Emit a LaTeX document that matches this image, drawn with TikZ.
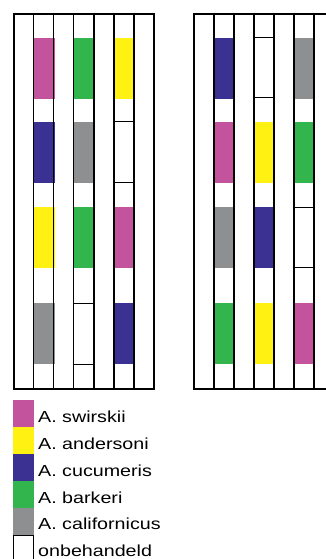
\documentclass[tikz,border=0pt]{standalone}
\usepackage{fontspec}
\setmainfont{Liberation Sans}
\newfontfamily\legendafont[FakeStretch=1.23]{Liberation Sans}
\definecolor{swirskii}{RGB}{196,83,157}
\definecolor{andersoni}{RGB}{255,241,18}
\definecolor{cucumeris}{RGB}{59,49,146}
\definecolor{barkeri}{RGB}{51,181,78}
\definecolor{californicus}{RGB}{142,143,144}
\begin{document}
\begin{tikzpicture}[x=1pt,y=-1pt,
    rand/.style={line width=2pt},
    dun/.style={line width=1pt},
    dik/.style={line width=1.4pt},
    leeg/.style={line width=1pt},
    tekst/.style={anchor=base west, inner sep=0pt, font=\legendafont\fontsize{16}{16}\selectfont}]
    \useasboundingbox (0,0) rectangle (325,559);
    % Kas 1: blokken
    \fill[swirskii] (34,38) rectangle (54.5,99);
    \fill[cucumeris] (34,122) rectangle (54.5,183);
    \fill[andersoni] (34,207) rectangle (54.5,268);
    \fill[californicus] (34,303) rectangle (54.5,364);
    \fill[barkeri] (74,38) rectangle (94,99);
    \fill[californicus] (74,122) rectangle (94,183);
    \fill[barkeri] (74,207) rectangle (94,268);
    \draw[leeg] (74,303) -- (94,303);
    \draw[leeg] (74,364) -- (94,364);
    \fill[andersoni] (114,38) rectangle (134,99);
    \draw[leeg] (114,122) -- (134,122);
    \draw[leeg] (114,182) -- (134,182);
    \fill[swirskii] (114,207) rectangle (134,268);
    \fill[cucumeris] (114,303) rectangle (134,364);
    % Kas 1: lijnen
    \draw[dun] (33.5,14) -- (33.5,389);
    \draw[dun] (53.5,14) -- (53.5,389);
    \draw[dun] (73.5,14) -- (73.5,389);
    \draw[dik] (94,14) -- (94,389);
    \draw[dik] (114,14) -- (114,389);
    \draw[dik] (134,14) -- (134,389);
    \draw[rand] (14,14) rectangle (154,389);
    % Kas 2: blokken
    \fill[cucumeris] (214,38) rectangle (234,99);
    \fill[swirskii] (214,122) rectangle (234,183);
    \fill[californicus] (214,207) rectangle (234,268);
    \fill[barkeri] (214,303) rectangle (234,364);
    \draw[leeg] (254,38) -- (275,38);
    \draw[leeg] (254,98) -- (275,98);
    \fill[andersoni] (254,122) rectangle (274,183);
    \fill[cucumeris] (254,207) rectangle (274,268);
    \fill[andersoni] (254,303) rectangle (274,364);
    \fill[californicus] (294,38) rectangle (314,99);
    \fill[barkeri] (294,122) rectangle (314,183);
    \draw[leeg] (294,207) -- (315,207);
    \draw[leeg] (294,267) -- (315,267);
    \fill[swirskii] (294,303) rectangle (314,364);
    % Kas 2: lijnen
    \draw[dik] (214,14) -- (214,389);
    \draw[dik] (234,14) -- (234,389);
    \draw[dik] (254,14) -- (254,389);
    \draw[dik] (274,14) -- (274,389);
    \draw[dik] (294,14) -- (294,389);
    \draw[dik] (314,14) -- (314,389);
    \draw[rand] (326,14) -- (194,14) -- (194,389) -- (326,389);
    % Legenda
    \fill[swirskii] (13,400) rectangle (34,427);
    \fill[andersoni] (13,427) rectangle (34,454);
    \fill[cucumeris] (13,454) rectangle (34,481);
    \fill[barkeri] (13,481) rectangle (34,508);
    \fill[californicus] (13,508) rectangle (34,535);
    \draw[dun] (13.5,560) -- (13.5,535) -- (33.5,535) -- (33.5,560);
    \node[tekst] (swirskii) at (38,422.5) {A. swirskii};
    \node[tekst] (andersoni) at (38,449.5) {A. andersoni};
    \node[tekst] (cucumeris) at (38,476.5) {A. cucumeris};
    \node[tekst] (barkeri) at (38,503.5) {A. barkeri};
    \node[tekst] (californicus) at (38,529.5) {A. californicus};
    \node[tekst] (onbehandeld) at (38,556.5) {onbehandeld};
\end{tikzpicture}
\end{document}
